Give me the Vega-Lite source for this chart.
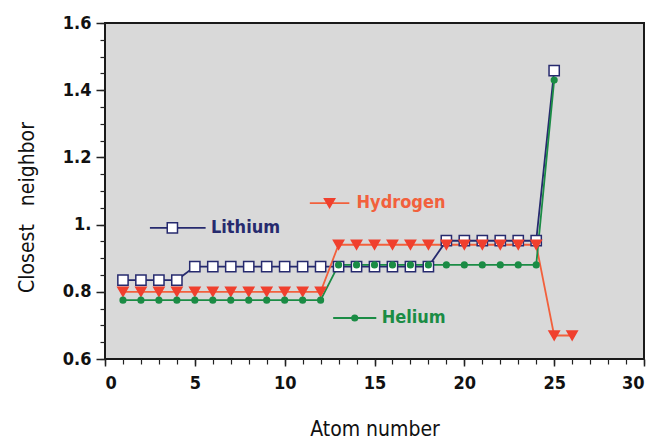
{
  "$schema": "https://vega.github.io/schema/vega-lite/v6.json",
  "width": 539,
  "height": 336,
  "autosize": {"type": "none"},
  "padding": {"left": 105, "top": 23, "right": 10, "bottom": 85},
  "background": "white",
  "config": {
    "view": {"fill": "#D9D9D9", "stroke": "#1a1a1a", "strokeWidth": 2},
    "font": "'DejaVu Sans Condensed', 'DejaVu Sans', sans-serif",
    "axis": {"domain": false, "tickColor": "#222", "labelColor": "#111", "titleColor": "#111", "grid": false, "labelFont": "'DejaVu Sans Condensed', 'DejaVu Sans', sans-serif", "titleFont": "'DejaVu Sans Condensed', 'DejaVu Sans', sans-serif", "labelFontWeight": "bold"}
  },
  "datasets": {
    "main": [
      {"atom": 1, "value": 0.835, "element": "Lithium"},
      {"atom": 2, "value": 0.835, "element": "Lithium"},
      {"atom": 3, "value": 0.835, "element": "Lithium"},
      {"atom": 4, "value": 0.835, "element": "Lithium"},
      {"atom": 5, "value": 0.875, "element": "Lithium"},
      {"atom": 6, "value": 0.875, "element": "Lithium"},
      {"atom": 7, "value": 0.875, "element": "Lithium"},
      {"atom": 8, "value": 0.875, "element": "Lithium"},
      {"atom": 9, "value": 0.875, "element": "Lithium"},
      {"atom": 10, "value": 0.875, "element": "Lithium"},
      {"atom": 11, "value": 0.875, "element": "Lithium"},
      {"atom": 12, "value": 0.875, "element": "Lithium"},
      {"atom": 13, "value": 0.875, "element": "Lithium"},
      {"atom": 14, "value": 0.875, "element": "Lithium"},
      {"atom": 15, "value": 0.875, "element": "Lithium"},
      {"atom": 16, "value": 0.875, "element": "Lithium"},
      {"atom": 17, "value": 0.875, "element": "Lithium"},
      {"atom": 18, "value": 0.875, "element": "Lithium"},
      {"atom": 19, "value": 0.952, "element": "Lithium"},
      {"atom": 20, "value": 0.952, "element": "Lithium"},
      {"atom": 21, "value": 0.952, "element": "Lithium"},
      {"atom": 22, "value": 0.952, "element": "Lithium"},
      {"atom": 23, "value": 0.952, "element": "Lithium"},
      {"atom": 24, "value": 0.952, "element": "Lithium"},
      {"atom": 25, "value": 1.458, "element": "Lithium"},
      {"atom": 1, "value": 0.8, "element": "Hydrogen"},
      {"atom": 2, "value": 0.8, "element": "Hydrogen"},
      {"atom": 3, "value": 0.8, "element": "Hydrogen"},
      {"atom": 4, "value": 0.8, "element": "Hydrogen"},
      {"atom": 5, "value": 0.8, "element": "Hydrogen"},
      {"atom": 6, "value": 0.8, "element": "Hydrogen"},
      {"atom": 7, "value": 0.8, "element": "Hydrogen"},
      {"atom": 8, "value": 0.8, "element": "Hydrogen"},
      {"atom": 9, "value": 0.8, "element": "Hydrogen"},
      {"atom": 10, "value": 0.8, "element": "Hydrogen"},
      {"atom": 11, "value": 0.8, "element": "Hydrogen"},
      {"atom": 12, "value": 0.8, "element": "Hydrogen"},
      {"atom": 13, "value": 0.94, "element": "Hydrogen"},
      {"atom": 14, "value": 0.94, "element": "Hydrogen"},
      {"atom": 15, "value": 0.94, "element": "Hydrogen"},
      {"atom": 16, "value": 0.94, "element": "Hydrogen"},
      {"atom": 17, "value": 0.94, "element": "Hydrogen"},
      {"atom": 18, "value": 0.94, "element": "Hydrogen"},
      {"atom": 19, "value": 0.94, "element": "Hydrogen"},
      {"atom": 20, "value": 0.94, "element": "Hydrogen"},
      {"atom": 21, "value": 0.94, "element": "Hydrogen"},
      {"atom": 22, "value": 0.94, "element": "Hydrogen"},
      {"atom": 23, "value": 0.94, "element": "Hydrogen"},
      {"atom": 24, "value": 0.94, "element": "Hydrogen"},
      {"atom": 25, "value": 0.67, "element": "Hydrogen"},
      {"atom": 26, "value": 0.67, "element": "Hydrogen"},
      {"atom": 1, "value": 0.775, "element": "Helium"},
      {"atom": 2, "value": 0.775, "element": "Helium"},
      {"atom": 3, "value": 0.775, "element": "Helium"},
      {"atom": 4, "value": 0.775, "element": "Helium"},
      {"atom": 5, "value": 0.775, "element": "Helium"},
      {"atom": 6, "value": 0.775, "element": "Helium"},
      {"atom": 7, "value": 0.775, "element": "Helium"},
      {"atom": 8, "value": 0.775, "element": "Helium"},
      {"atom": 9, "value": 0.775, "element": "Helium"},
      {"atom": 10, "value": 0.775, "element": "Helium"},
      {"atom": 11, "value": 0.775, "element": "Helium"},
      {"atom": 12, "value": 0.775, "element": "Helium"},
      {"atom": 13, "value": 0.88, "element": "Helium"},
      {"atom": 14, "value": 0.88, "element": "Helium"},
      {"atom": 15, "value": 0.88, "element": "Helium"},
      {"atom": 16, "value": 0.88, "element": "Helium"},
      {"atom": 17, "value": 0.88, "element": "Helium"},
      {"atom": 18, "value": 0.88, "element": "Helium"},
      {"atom": 19, "value": 0.88, "element": "Helium"},
      {"atom": 20, "value": 0.88, "element": "Helium"},
      {"atom": 21, "value": 0.88, "element": "Helium"},
      {"atom": 22, "value": 0.88, "element": "Helium"},
      {"atom": 23, "value": 0.88, "element": "Helium"},
      {"atom": 24, "value": 0.88, "element": "Helium"},
      {"atom": 25, "value": 1.43, "element": "Helium"}
    ],
    "legline": [
      {"element": "Lithium", "x1": 2.5, "x2": 5.6, "y": 0.99},
      {"element": "Hydrogen", "x1": 11.4, "x2": 13.6, "y": 1.064},
      {"element": "Helium", "x1": 12.7, "x2": 15.1, "y": 0.722}
    ],
    "legpt": [
      {"element": "Lithium", "x": 3.75, "y": 0.99},
      {"element": "Hydrogen", "x": 12.5, "y": 1.064},
      {"element": "Helium", "x": 13.9, "y": 0.722}
    ],
    "legtxt": [
      {"element": "Lithium", "x": 5.9, "y": 0.99},
      {"element": "Hydrogen", "x": 14.0, "y": 1.064},
      {"element": "Helium", "x": 15.4, "y": 0.722}
    ]
  },
  "layer": [
    {
      "data": {"name": "main"},
      "mark": {"type": "line", "strokeWidth": 1.8},
      "encoding": {
        "x": {"field": "atom", "type": "quantitative",
          "scale": {"domain": [0, 30], "nice": false, "zero": false},
          "axis": {"orient": "bottom", "values": [0, 5, 10, 15, 20, 25, 30], "tickSize": 7, "tickWidth": 1.5, "labelPadding": 8, "labelFontSize": 18, "title": "Atom number", "titleFontSize": 21, "titleFontWeight": "normal", "titleY": 70, "titleBaseline": "middle"}},
        "y": {"field": "value", "type": "quantitative",
          "scale": {"domain": [0.6, 1.6], "nice": false, "zero": false},
          "axis": {"orient": "left", "values": [0.6, 0.8, 1.0, 1.2, 1.4, 1.6], "tickSize": 9, "tickWidth": 1.5, "labelPadding": 5, "labelFontSize": 18, "labelExpr": "datum.value == 1 ? '1.' : format(datum.value, '.1f')", "title": "Closest\u00a0\u00a0\u00a0neighbor", "titleFontSize": 21, "titleFontWeight": "normal", "titleX": -78, "titleY": 184, "titleBaseline": "middle"}},
        "color": {"field": "element", "type": "nominal",
          "scale": {"domain": ["Lithium", "Hydrogen", "Helium"], "range": ["#262A6E", "#F2603C", "#1B8C45"]},
          "legend": null}
      }
    },
    {
      "data": {"name": "main"},
      "mark": {"type": "point", "filled": false, "strokeWidth": 1.5, "opacity": 1},
      "encoding": {
        "x": {"field": "atom", "type": "quantitative",
          "axis": {"orient": "bottom", "values": [0,1,2,3,4,5,6,7,8,9,10,11,12,13,14,15,16,17,18,19,20,21,22,23,24,25,26,27,28,29,30], "labels": false, "tickSize": 5, "tickWidth": 1.2, "title": null}},
        "y": {"field": "value", "type": "quantitative",
          "axis": {"orient": "left", "values": [0.6,0.65,0.7,0.75,0.8,0.85,0.9,0.95,1.0,1.05,1.1,1.15,1.2,1.25,1.3,1.35,1.4,1.45,1.5,1.55,1.6], "labels": false, "tickSize": 5, "tickWidth": 1.2, "title": null}},
        "shape": {"field": "element", "type": "nominal", "scale": {"domain": ["Lithium", "Hydrogen", "Helium"], "range": ["square", "triangle-down", "circle"]}, "legend": null},
        "fill": {"field": "element", "type": "nominal", "scale": {"domain": ["Lithium", "Hydrogen", "Helium"], "range": ["#FFFFFF", "#F0402E", "#1B8C45"]}, "legend": null},
        "stroke": {"field": "element", "type": "nominal", "scale": {"domain": ["Lithium", "Hydrogen", "Helium"], "range": ["#262A6E", "#F0402E", "#1B8C45"]}, "legend": null},
        "size": {"condition": {"test": "datum.element == 'Helium'", "value": 32}, "value": 105}
      }
    },
    {
      "data": {"name": "legline"},
      "mark": {"type": "rule", "strokeWidth": 1.8},
      "encoding": {
        "x": {"field": "x1", "type": "quantitative", "axis": null},
        "x2": {"field": "x2"},
        "y": {"field": "y", "type": "quantitative", "axis": null},
        "color": {"field": "element", "type": "nominal", "legend": null}
      }
    },
    {
      "data": {"name": "legpt"},
      "mark": {"type": "point", "filled": false, "strokeWidth": 1.5, "opacity": 1},
      "encoding": {
        "x": {"field": "x", "type": "quantitative", "axis": null},
        "y": {"field": "y", "type": "quantitative", "axis": null},
        "shape": {"field": "element", "type": "nominal", "legend": null},
        "fill": {"field": "element", "type": "nominal", "legend": null},
        "stroke": {"field": "element", "type": "nominal", "legend": null},
        "size": {"condition": {"test": "datum.element == 'Helium'", "value": 32}, "value": 105}
      }
    },
    {
      "data": {"name": "legtxt"},
      "mark": {"type": "text", "align": "left", "baseline": "middle", "fontSize": 18, "fontWeight": "bold", "font": "'DejaVu Sans Condensed', 'DejaVu Sans', sans-serif"},
      "encoding": {
        "x": {"field": "x", "type": "quantitative", "axis": null},
        "y": {"field": "y", "type": "quantitative", "axis": null},
        "text": {"field": "element"},
        "color": {"field": "element", "type": "nominal", "legend": null}
      }
    }
  ],
  "resolve": {"axis": {"x": "independent", "y": "independent"}}
}
